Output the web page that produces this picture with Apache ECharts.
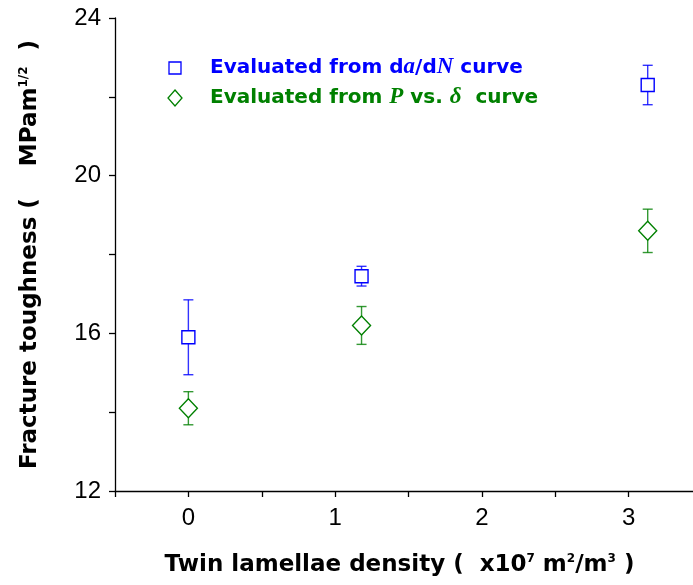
<!DOCTYPE html>
<html>
<head>
<meta charset="utf-8">
<script src="https://cdn.jsdelivr.net/npm/echarts@6/dist/echarts.min.js"></script>
<style>
  html, body { margin: 0; padding: 0; background: #fff; }
  #chart { width: 693px; height: 585px; }
</style>
</head>
<body>
<div id="chart"></div>
<script>
// twin lamellae density (x10^7 m2/m3)
const density = [0, 1.18, 3.13];
// toughness from da/dN curve
const daDN = [15.9, 17.45, 22.3];
const daDNErr = [0.95, 0.25, 0.5];
// toughness from P vs delta curve
const pDelta = [14.1, 16.2, 18.6];
const pDeltaErr = [0.42, 0.48, 0.55];

const xTicks = [0, 1, 2, 3];
const yTicks = [12, 16, 20, 24];

const BLUE = "#0000ff";
const GREEN = "#008000";

function errData(vals, errs) {
  return density.map((x, i) => [x, vals[i] - errs[i], vals[i] + errs[i]]);
}

function errSeries(vals, errs, color) {
  return {
    type: "custom",
    data: errData(vals, errs),
    z: 1,
    renderItem: function (params, api) {
      const lo = api.coord([api.value(0), api.value(1)]);
      const hi = api.coord([api.value(0), api.value(2)]);
      const w = 5;
      const st = { stroke: color, lineWidth: 1.4, opacity: 0.8 };
      return {
        type: "group",
        children: [
          { type: "line", shape: { x1: lo[0], y1: lo[1], x2: hi[0], y2: hi[1] }, style: st },
          { type: "line", shape: { x1: lo[0] - w, y1: lo[1], x2: lo[0] + w, y2: lo[1] }, style: st },
          { type: "line", shape: { x1: hi[0] - w, y1: hi[1], x2: hi[0] + w, y2: hi[1] }, style: st },
        ],
      };
    },
  };
}

const supStyle = { fontFamily: "DejaVu Sans", fontWeight: "bold", fontSize: 12, verticalAlign: "top", padding: [0, 0, 12, 0] };

const chart = echarts.init(document.getElementById("chart"));
chart.setOption({
  animation: false,
  grid: { left: 115, top: 18, height: 473, width: 587, outerBoundsMode: "none", containLabel: false },
  xAxis: {
    type: "value",
    min: -0.5,
    max: 3.5,
    interval: 0.5,
    name: "Twin lamellae density (  x10{s|7} m{s|2}/m{s|3} )",
    nameLocation: "middle",
    nameGap: 62,
    nameTextStyle: {
      fontFamily: "DejaVu Sans",
      fontWeight: "bold",
      fontSize: 23,
      color: "#000",
      padding: [0, 18, 0, 0],
      rich: { s: supStyle },
    },
    axisLine: { onZero: false, lineStyle: { color: "#000", width: 1.3 } },
    axisTick: { inside: false, length: 6, lineStyle: { color: "#000", width: 1.3 } },
    splitLine: { show: false },
    axisLabel: {
      margin: 15,
      fontFamily: "Liberation Sans",
      fontSize: 24,
      color: "#000",
      formatter: function (v) {
        return xTicks.indexOf(v) >= 0 ? String(v) : "";
      },
    },
  },
  yAxis: {
    type: "value",
    min: 12,
    max: 24,
    interval: 2,
    name: "Fracture toughness (    MPam{s|1/2}  )",
    nameLocation: "middle",
    nameGap: 73,
    nameTextStyle: {
      fontFamily: "DejaVu Sans",
      fontWeight: "bold",
      fontSize: 23,
      color: "#000",
      rich: { s: supStyle },
    },
    axisLine: { show: true, onZero: false, lineStyle: { color: "#000", width: 1.3 } },
    axisTick: { show: true, inside: false, length: 6, lineStyle: { color: "#000", width: 1.3 } },
    splitLine: { show: false },
    axisLabel: {
      margin: 14,
      fontFamily: "Liberation Sans",
      fontSize: 24,
      color: "#000",
      formatter: function (v) {
        return yTicks.indexOf(v) >= 0 ? String(v) : "";
      },
    },
  },
  graphic: [
    {
      type: "rect",
      shape: { x: 169, y: 62, width: 12, height: 12 },
      style: { fill: "#fff", stroke: BLUE, lineWidth: 1.3 },
    },
    {
      type: "polygon",
      shape: { points: [[175, 90], [182, 98], [175, 106], [168, 98]] },
      style: { fill: "#fff", stroke: GREEN, lineWidth: 1.3 },
    },
    {
      type: "text",
      left: 210,
      top: 56,
      style: {
        text: "Evaluated from d{i|a}/d{i|N} curve",
        fontFamily: "DejaVu Sans",
        fontWeight: "bold",
        fontSize: 20,
        fill: BLUE,
        rich: {
          i: { fontFamily: "Liberation Serif", fontStyle: "italic", fontWeight: "bold", fontSize: 23, fill: BLUE },
        },
      },
    },
    {
      type: "text",
      left: 210,
      top: 86,
      style: {
        text: "Evaluated from {i|P} vs. {i|δ}  curve",
        fontFamily: "DejaVu Sans",
        fontWeight: "bold",
        fontSize: 20,
        fill: GREEN,
        rich: {
          i: { fontFamily: "Liberation Serif", fontStyle: "italic", fontWeight: "bold", fontSize: 23, fill: GREEN },
        },
      },
    },
  ],
  series: [
    errSeries(daDN, daDNErr, BLUE),
    errSeries(pDelta, pDeltaErr, GREEN),
    {
      type: "scatter",
      data: density.map((x, i) => [x, daDN[i]]),
      symbol: "rect",
      symbolSize: 13,
      z: 3,
      itemStyle: { color: "#fff", borderColor: BLUE, borderWidth: 1.4, opacity: 1 },
    },
    {
      type: "scatter",
      data: density.map((x, i) => [x, pDelta[i]]),
      symbol: "diamond",
      symbolSize: [18, 19],
      z: 3,
      itemStyle: { color: "#fff", borderColor: GREEN, borderWidth: 1.4, opacity: 1 },
    },
  ],
});
</script>
</body>
</html>
